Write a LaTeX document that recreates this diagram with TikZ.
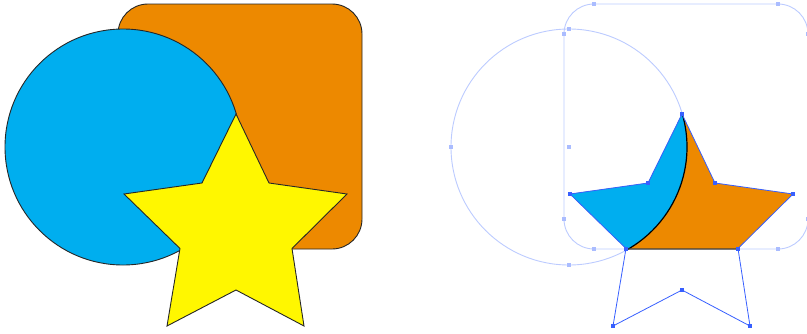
\documentclass[tikz,border=0pt]{standalone}
\definecolor{cyanfill}{RGB}{0,174,239}
\definecolor{orangefill}{RGB}{237,137,0}
\definecolor{yellowfill}{RGB}{255,247,0}
\definecolor{guide}{RGB}{188,203,255}
\definecolor{guidept}{RGB}{170,188,255}
\definecolor{anchorc}{RGB}{55,95,255}
\begin{document}
\begin{tikzpicture}[x=1pt,y=-1pt,
  outl/.style={draw=black!85, line width=0.9pt},
  guideline/.style={draw=guide, line width=0.9pt},
  guidedot/.style={fill=guidept, minimum size=4.5pt, inner sep=0pt, outer sep=0pt, shape=rectangle, draw=none},
  anchordot/.style={fill=anchorc, minimum size=4pt, inner sep=0pt, outer sep=0pt, shape=rectangle, draw=none},
  starline/.style={draw=anchorc, line width=0.8pt, line join=miter}]
\useasboundingbox (0,0) rectangle (807,333);

% star points
\foreach \i/\x/\y in {1/236/114, 2/269/183, 3/347/194, 4/292/248.5, 5/304/326,
                      6/236/290, 7/167/326, 8/180/248.5, 9/124/194, 10/202/183}{
  \coordinate (s\i) at (\x,\y);
  \coordinate (t\i) at (\x+446,\y);
}
\coordinate (cL) at (123,147);
\coordinate (cR) at (569,147);

% ---------- left picture ----------
\draw[outl, fill=orangefill, rounded corners=30pt] (118,4) rectangle (362,249);
\draw[outl, fill=cyanfill] (cL) circle[radius=118pt];
\draw[outl, fill=yellowfill, line join=miter]
  (s1)--(s2)--(s3)--(s4)--(s5)--(s6)--(s7)--(s8)--(s9)--(s10)--cycle;

% ---------- right picture ----------
\draw[guideline, rounded corners=30pt] (564,4) rectangle (808,249);
\draw[guideline] (cR) circle[radius=118pt];
\foreach \p in {(594,4),(778,4),(564,34),(564,219),(594,249),(778,249),(808,34),(808,219),
                (569,29),(451,147),(569,265),(569,147)}{
  \node[guidedot] at \p {};
}
\begin{scope}
  \clip (t1)--(t2)--(t3)--(t4)--(t5)--(t6)--(t7)--(t8)--(t9)--(t10)--cycle;
  \fill[orangefill, rounded corners=30pt] (564,4) rectangle (808,249);
  \fill[cyanfill] (cR) circle[radius=118pt];
  \draw[black, line width=1.2pt] (cR) circle[radius=118pt];
  \draw[black!75, line width=1.2pt, rounded corners=30pt] (564,4) rectangle (808,249);
\end{scope}
\draw[starline] (t1)--(t2)--(t3)--(t4)--(t5)--(t6)--(t7)--(t8)--(t9)--(t10)--cycle;
\foreach \i in {1,...,10}{
  \node[anchordot] at (t\i) {};
}
\end{tikzpicture}
\end{document}
